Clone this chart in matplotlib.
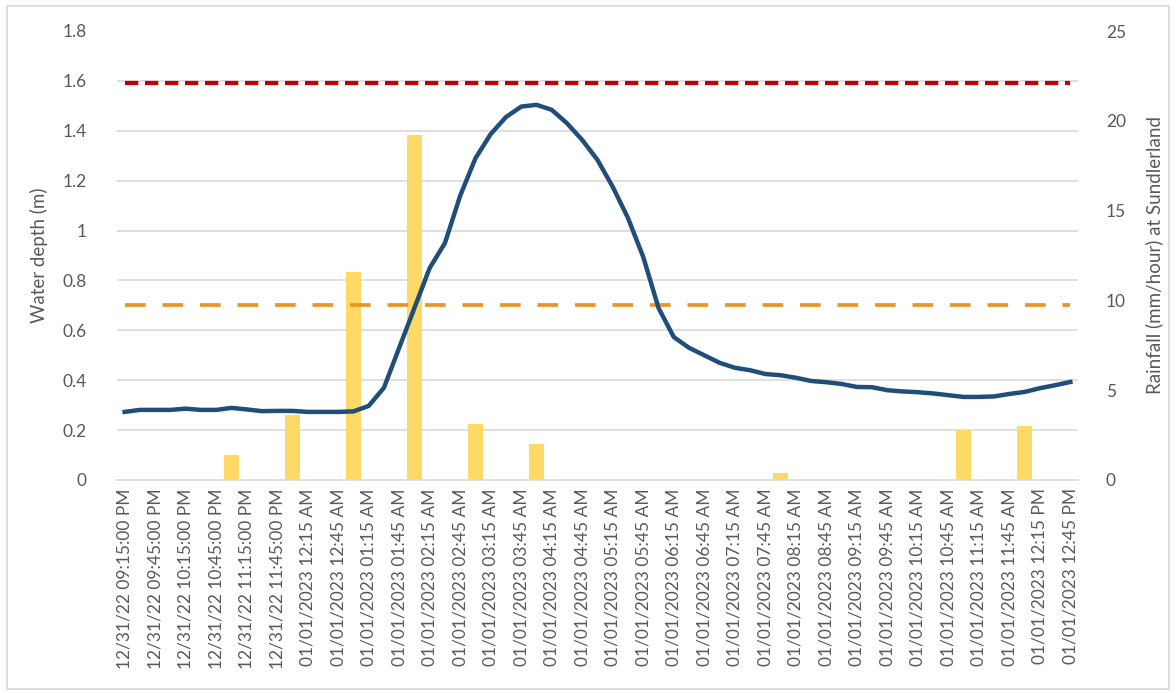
import numpy as np
import matplotlib
matplotlib.use("Agg")
import matplotlib.pyplot as plt
from matplotlib.patches import Rectangle

plt.rcParams['font.family'] = ['Lato', 'DejaVu Sans']

# tick labels, one every 30 min (data every 15 min)
time_labels = [
    "12/31/22 09:15:00 PM", "12/31/22 09:45:00 PM", "12/31/22 10:15:00 PM",
    "12/31/22 10:45:00 PM", "12/31/22 11:15:00 PM", "12/31/22 11:45:00 PM",
    "01/01/2023 12:15 AM", "01/01/2023 12:45 AM", "01/01/2023 01:15 AM",
    "01/01/2023 01:45 AM", "01/01/2023 02:15 AM", "01/01/2023 02:45 AM",
    "01/01/2023 03:15 AM", "01/01/2023 03:45 AM", "01/01/2023 04:15 AM",
    "01/01/2023 04:45 AM", "01/01/2023 05:15 AM", "01/01/2023 05:45 AM",
    "01/01/2023 06:15 AM", "01/01/2023 06:45 AM", "01/01/2023 07:15 AM",
    "01/01/2023 07:45 AM", "01/01/2023 08:15 AM", "01/01/2023 08:45 AM",
    "01/01/2023 09:15 AM", "01/01/2023 09:45 AM", "01/01/2023 10:15 AM",
    "01/01/2023 10:45 AM", "01/01/2023 11:15 AM", "01/01/2023 11:45 AM",
    "01/01/2023 12:15 PM", "01/01/2023 12:45 PM",
]

# water depth (m), 15 min steps
depth = [0.273, 0.281, 0.281, 0.281, 0.286, 0.281, 0.281, 0.289, 0.283, 0.276,
         0.277, 0.277, 0.273, 0.273, 0.273, 0.275, 0.297, 0.37, 0.53, 0.69,
         0.85, 0.95, 1.14, 1.29, 1.387, 1.455, 1.497, 1.504, 1.484, 1.43,
         1.363, 1.283, 1.175, 1.05, 0.894, 0.69, 0.573, 0.53, 0.50, 0.47,
         0.45, 0.44, 0.425, 0.42, 0.41, 0.397, 0.392, 0.385, 0.373, 0.372,
         0.36, 0.355, 0.352, 0.347, 0.34, 0.333, 0.333, 0.335, 0.345, 0.353,
         0.368, 0.38, 0.393]

# rainfall (mm/hour) at Sundlerland
rain = [0, 0, 0, 0, 0, 0, 0, 1.4, 0, 0, 0, 3.6, 0, 0, 0, 11.6, 0, 0, 0, 19.2,
        0, 0, 0, 3.1, 0, 0, 0, 2.0, 0, 0, 0, 0, 0, 0, 0, 0, 0, 0, 0, 0,
        0, 0, 0, 0.4, 0, 0, 0, 0, 0, 0, 0, 0, 0, 0, 0, 2.8, 0, 0, 0, 3.0,
        0, 0, 0]

alarm_level = 1.59   # red dotted
alert_level = 0.70   # orange dashed

grey = '#595959'
gridc = '#D9D9D9'

x = np.arange(len(depth))

fig = plt.figure(figsize=(11.76, 6.93), dpi=100)
fig.patches.append(Rectangle((0.006, 0.006), 0.988, 0.985, transform=fig.transFigure,
                             fill=False, edgecolor=gridc, linewidth=1.2))

ax2 = fig.add_axes([117 / 1176, 1 - 480 / 693, 961 / 1176, 449 / 693])
ax1 = ax2.twinx()   # left axis (depth) drawn on top of bars
ax1.yaxis.tick_left()
ax1.yaxis.set_label_position('left')
ax2.yaxis.tick_right()
ax2.yaxis.set_label_position('right')
ax1.set_zorder(ax2.get_zorder() + 1)
ax1.patch.set_visible(False)

# bars (right axis)
ax2.bar(x, rain, width=0.95, color='#FFD966', zorder=2)
ax2.set_ylim(0, 25)
ax2.set_yticks(np.arange(0, 26, 5))
# gridlines of the left axis, drawn behind the bars
ax2.set_yticks(np.arange(0, 1.81, 0.2) * 25 / 1.8, minor=True)
ax2.grid(which='minor', axis='y', color=gridc, linewidth=1.2)
ax2.set_axisbelow(True)
ax2.tick_params(which='both', length=0, colors=grey, labelsize=12.5, pad=20)
ax2.set_ylabel('Rainfall (mm/hour) at Sundlerland', color=grey, fontsize=13.5, labelpad=14)

# lines (left axis)
ax1.plot(x, [alarm_level] * len(x), color='#C00000', linewidth=3, linestyle=(0, (3.2, 1.6)))
ax1.plot(x, [alert_level] * len(x), color='#E8962A', linewidth=2.7, linestyle=(0, (5.5, 4.5)))
ax1.plot(x, depth, color='#1F4E79', linewidth=3.2, solid_joinstyle='round')
ax1.set_ylim(0, 1.8)
ax1.set_yticks(np.arange(0, 1.81, 0.2))
ax1.set_yticklabels(['0', '0.2', '0.4', '0.6', '0.8', '1', '1.2', '1.4', '1.6', '1.8'])
ax1.tick_params(length=0, colors=grey, labelsize=12.5, pad=22)
ax1.set_ylabel('Water depth (m)', color=grey, fontsize=13.5, labelpad=10)

ax2.set_xlim(-0.5, len(x) - 0.5)
ax2.set_xticks(x[::2])
ax2.set_xticklabels(time_labels, rotation=90)
ax2.tick_params(axis='x', pad=6)

for a in (ax1, ax2):
    for s in a.spines.values():
        s.set_visible(False)
ax2.spines['bottom'].set_visible(True)
ax2.spines['bottom'].set_color(gridc)
ax2.spines['bottom'].set_linewidth(1.2)

fig.savefig('out.png', dpi=100)
